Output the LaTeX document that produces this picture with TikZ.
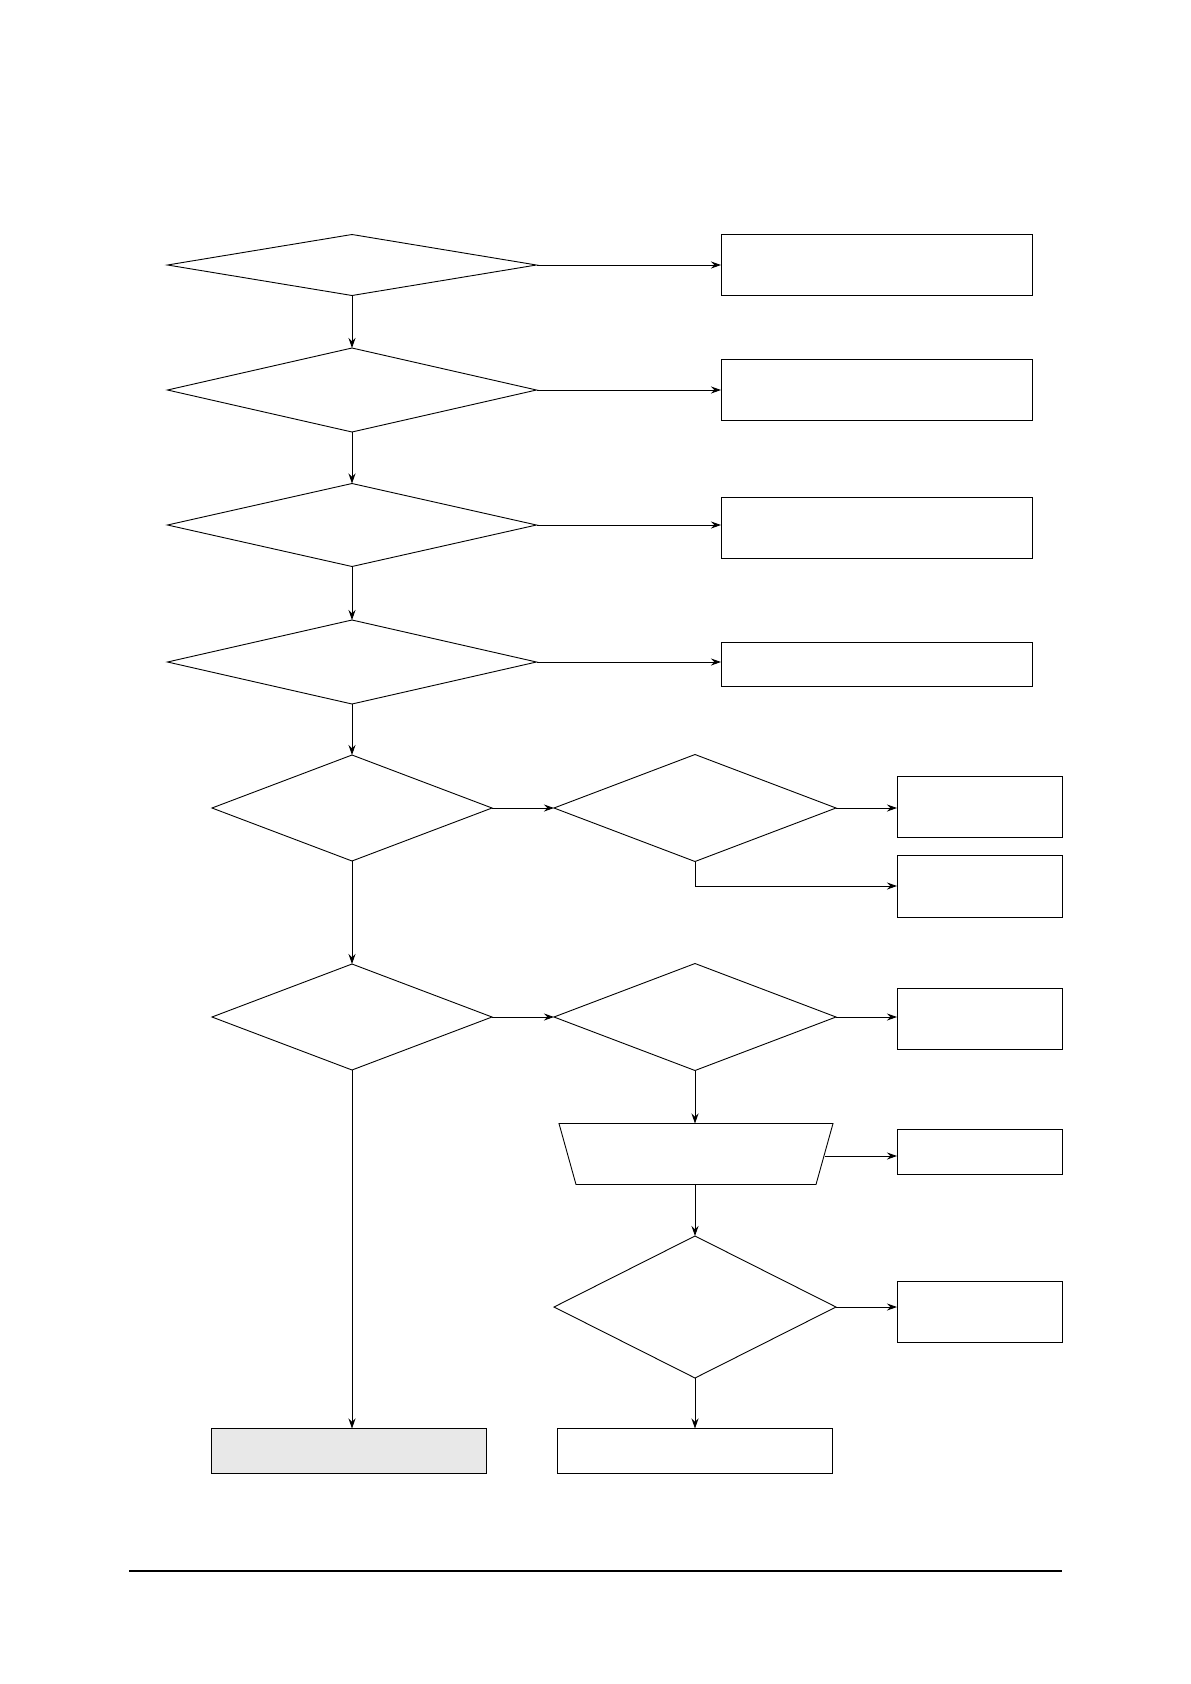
\documentclass[tikz,border=0pt]{standalone}
\usetikzlibrary{shapes.geometric,arrows.meta}
\begin{document}
\begin{tikzpicture}[x=1pt,y=-1pt,
  line width=0.9pt,
  dec/.style={draw, diamond, inner sep=0pt, outer sep=0pt},
  blk/.style={draw, rectangle, inner sep=0pt, outer sep=0pt},
  arr/.style={-{Stealth[length=10pt,width=7pt]}}]
\useasboundingbox (0,0) rectangle (1191,1684);
% main column diamonds
\node[dec, minimum width=369pt, minimum height=61pt] (D1) at (352,265) {};
\node[dec, minimum width=369pt, minimum height=84pt] (D2) at (352,390) {};
\node[dec, minimum width=369pt, minimum height=83pt] (D3) at (352,525) {};
\node[dec, minimum width=369pt, minimum height=84pt] (D4) at (352,662) {};
\node[dec, minimum width=280pt, minimum height=106pt] (D5) at (352,808) {};
\node[dec, minimum width=280pt, minimum height=106pt] (D7) at (352,1017) {};
% right column diamonds
\node[dec, minimum width=282pt, minimum height=107pt] (D6) at (695,808) {};
\node[dec, minimum width=282pt, minimum height=107pt] (D8) at (695,1017) {};
\node[dec, minimum width=282pt, minimum height=142pt] (D9) at (695,1307) {};
% trapezoid
\node[inner sep=0pt, outer sep=0pt, minimum width=274pt, minimum height=61pt] (T) at (696,1154) {};
\draw (T.north west) -- (T.north east) -- ([xshift=-17pt]T.south east) -- ([xshift=17pt]T.south west) -- cycle;
% wide boxes
\node[blk, minimum width=311pt, minimum height=61pt] (B1) at (876.5,264.5) {};
\node[blk, minimum width=311pt, minimum height=61pt] (B2) at (876.5,389.5) {};
\node[blk, minimum width=311pt, minimum height=61pt] (B3) at (876.5,527.5) {};
\node[blk, minimum width=311pt, minimum height=44pt] (B4) at (876.5,664) {};
% small boxes
\node[blk, minimum width=165pt, minimum height=61pt] (B5) at (979.5,807) {};
\node[blk, minimum width=165pt, minimum height=62pt] (B6) at (979.5,886) {};
\node[blk, minimum width=165pt, minimum height=61pt] (B7) at (979.5,1019) {};
\node[blk, minimum width=165pt, minimum height=45pt] (B8) at (979.5,1151.5) {};
\node[blk, minimum width=165pt, minimum height=61pt] (B9) at (979.5,1311.5) {};
% bottom boxes
\node[blk, fill={rgb,255:red,232;green,232;blue,232}, minimum width=275pt, minimum height=45pt] (G) at (349,1451) {};
\node[blk, minimum width=275pt, minimum height=45pt] (B10) at (695,1451) {};
% connectors main column
\draw[arr] (D1.south) -- (D2.north);
\draw[arr] (D2.south) -- (D3.north);
\draw[arr] (D3.south) -- (D4.north);
\draw[arr] (D4.south) -- (D5.north);
\draw[arr] (D5.south) -- (D7.north);
\draw[arr] (D7.south) -- (D7.south |- G.north);
% to right boxes
\draw[arr] (D1.east) -- (D1.east -| B1.west);
\draw[arr] (D2.east) -- (D2.east -| B2.west);
\draw[arr] (D3.east) -- (D3.east -| B3.west);
\draw[arr] (D4.east) -- (D4.east -| B4.west);
\draw[arr] (D5.east) -- (D6.west);
\draw[arr] (D7.east) -- (D8.west);
\draw[arr] (D6.east) -- (D6.east -| B5.west);
\draw[arr] (D6.south) |- (B6.west);
\draw[arr] (D8.east) -- (D8.east -| B7.west);
\draw[arr] (D8.south) -- (D8.south |- T.north);
\coordinate (Tr) at ([xshift=-8.5pt,yshift=-2pt]T.east);
\draw[arr] (Tr) -- (Tr -| B8.west);
\draw[arr] (T.south -| D9.north) -- (D9.north);
\draw[arr] (D9.east) -- (D9.east -| B9.west);
\draw[arr] (D9.south) -- (B10.north);
% footer rule
\coordinate (L1) at (129,1571);
\coordinate (L2) at (1062,1571);
\draw[line width=1.8pt] (L1) -- (L2);
\end{tikzpicture}
\end{document}
